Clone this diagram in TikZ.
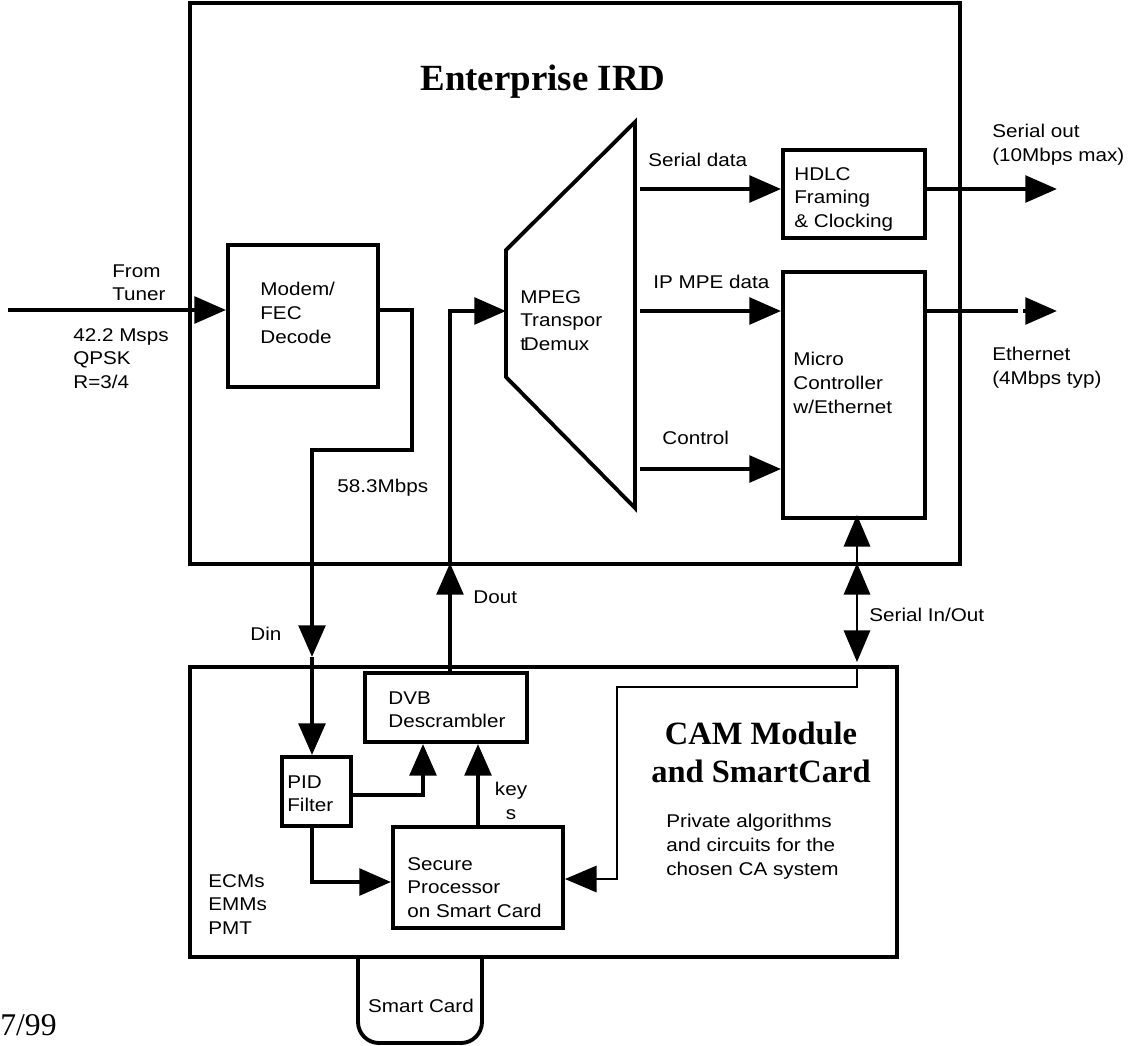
\documentclass[tikz,border=0pt]{standalone}
\usepackage{fontspec}
\setmainfont{Liberation Sans}[FakeStretch=1.12]
\newfontfamily\titlefont{Liberation Serif}
\usetikzlibrary{arrows.meta,fit,calc}

\tikzset{
  >={Triangle[length=18pt,width=15pt]},
  box/.style={draw, line width=2.2pt, inner sep=0pt},
  lbl/.style={inner sep=0pt, anchor=north west, align=left, font=\fontsize{10.5}{13.5}\selectfont},
  wire/.style={line width=2.6pt},
  thinwire/.style={line width=1.1pt},
}

\begin{document}
\begin{tikzpicture}[x=0.02cm, y=-0.02cm]
\useasboundingbox (0,0) rectangle (1128,1045);

%%% the two units
\node[box, fit={(190,3) (960,564)}] (ird) {};
\node[box, fit={(190,667) (897,957)}] (cam) {};
\node[inner sep=0pt, anchor=base, font=\titlefont\bfseries\fontsize{21}{24}\selectfont] (irdname) at (543,90) {Enterprise IRD};
\node[inner sep=0pt, anchor=north, align=center, font=\titlefont\bfseries\fontsize{18.5}{21.5}\selectfont] (camname) at (761,722) {CAM Module\\and SmartCard};

%%% IRD blocks
\node[box, fit={(228,245) (378,387)}] (modem) {};
\node[box, fit={(783,150) (925,238)}] (hdlc) {};
\node[box, fit={(783,272) (925,518)}] (micro) {};
\draw[line width=2.2pt] (506,250) -- (635,122) -- (635,508) -- (506,377) -- cycle;
\coordinate (mpegin) at (506,311);

\node[lbl] (modemtxt) at (260,282) {Modem/\\FEC\\Decode};
\node[lbl] (mpegtxt) at (520,290) {MPEG\\Transpor\\\rlap{t}\kern2pt Demux};
\node[lbl] (hdlctxt) at (794,167) {HDLC\\Framing\\\& Clocking};
\node[lbl] (microtxt) at (793,352) {Micro\\Controller\\w/Ethernet};

%%% CAM blocks
\node[box, fit={(365,673) (527,742)}] (dvb) {};
\node[box, fit={(282,757) (351,826)}] (pid) {};
\node[box, fit={(393,827) (563,928)}] (sec) {};
\node[lbl] (dvbtxt) at (388,691) {DVB\\Descrambler};
\node[lbl] (pidtxt) at (287,775) {PID\\Filter};
\node[lbl] (sectxt) at (407,857) {Secure\\Processor\\on Smart Card};
\node[lbl] (privtxt) at (666,814) {Private algorithms\\and circuits for the\\chosen CA system};

%%% smart card tab
\draw[line width=2.2pt, rounded corners=12pt] (358,957) -- (358,1043) -- (482,1043) -- (482,957);
\node[lbl, anchor=base] (card) at (421,1012) {Smart Card};

%%% signal path
\coordinate (tuner) at (8,310);
\coordinate (din) at (312,657);
\coordinate (dout) at (450,563);
\draw[wire,->] (tuner) -- (tuner -| modem.west);
\draw[wire,->] (modem.east |- tuner) -| (412,450) -| (din);
\draw[wire,->] (din) -- (pid.north -| din);
\draw[wire,->] (dvb.north -| dout) -- (dout);
\draw[wire,->] (dout) |- (mpegin);

\coordinate (sd) at (640,189);
\coordinate (ip) at (640,311);
\coordinate (ctl) at (640,469);
\draw[wire,->] (sd) -- (sd -| hdlc.west);
\draw[wire,->] (ip) -- (ip -| micro.west);
\draw[wire,->] (ctl) -- (ctl -| micro.west);

\coordinate (sout) at (1057,189);
\coordinate (eth) at (1018,311);
\coordinate (ethtip) at (1057,311);
\draw[wire,->] (sout -| hdlc.east) -- (sout);
\draw[wire] (eth -| micro.east) -- (eth);
\draw[wire,->] ($(ethtip)+(-34,0)$) -- (ethtip);

%%% inside CAM
\coordinate (pd) at (423,795);
\coordinate (ky) at (478,780);
\coordinate (ecm) at (312,882);
\draw[wire,->] (pid.east |- pd) -| (dvb.south -| pd);
\draw[wire,->] (sec.north -| ky) -- (dvb.south -| ky);
\draw[wire,->] (pid.south -| ecm) |- (sec.west |- ecm);

%%% serial in/out
\coordinate (sio) at (857,662);
\coordinate (siotop) at (857,563);
\coordinate (cp) at (617,879);
\draw[thinwire,<->] (siotop) -- (sio);
\draw[thinwire,->] (siotop) -- ($(micro.south -| sio)+(0,-5)$);
\draw[thinwire,->] (sio |- cam.north) -- ++(0,22) -| (cp) -- (cp -| sec.east);

%%% labels
\node[lbl] (fromtxt) at (112,264) {From\\Tuner};
\node[lbl] (ratetxt) at (73,328) {42.2 Msps\\QPSK\\R=3/4};
\node[lbl] (mbps) at (337,479) {58.3Mbps};
\node[lbl] (dintxt) at (250,627) {Din};
\node[lbl] (douttxt) at (473,590) {Dout};
\node[lbl] (sdtxt) at (648,153) {Serial data};
\node[lbl] (iptxt) at (653,275) {IP MPE data};
\node[lbl] (ctltxt) at (662,431) {Control};
\node[lbl] (souttxt) at (992,124) {Serial out\\(10Mbps max)};
\node[lbl] (ethtxt) at (992,347) {Ethernet\\(4Mbps typ)};
\node[lbl] (siotxt) at (869,608) {Serial In/Out};
\node[lbl, anchor=north, align=center] (keytxt) at (511,782) {key\\s};
\node[lbl] (ecmtxt) at (208,874) {ECMs\\EMMs\\PMT};
\node[inner sep=0pt, anchor=base west, font=\titlefont\fontsize{18}{20}\selectfont] (date) at (0,1035) {7/99};
\end{tikzpicture}
\end{document}
